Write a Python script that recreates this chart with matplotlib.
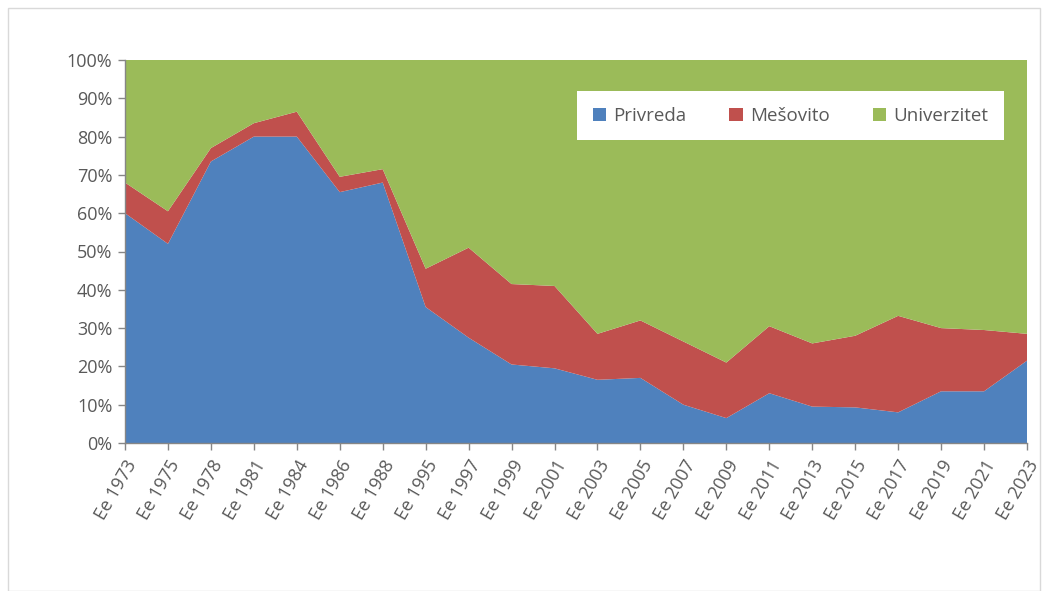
import matplotlib
matplotlib.use("Agg")
import matplotlib.pyplot as plt
from matplotlib.patches import Rectangle
from matplotlib.ticker import FuncFormatter, MultipleLocator
import numpy as np

categories = ["Ee 1973", "Ee 1975", "Ee 1978", "Ee 1981", "Ee 1984", "Ee 1986", "Ee 1988",
              "Ee 1995", "Ee 1997", "Ee 1999", "Ee 2001", "Ee 2003", "Ee 2005", "Ee 2007",
              "Ee 2009", "Ee 2011", "Ee 2013", "Ee 2015", "Ee 2017", "Ee 2019", "Ee 2021", "Ee 2023"]
privreda = [60.0, 52.0, 73.5, 80.0, 80.0, 65.5, 68.0, 35.5, 27.5, 20.5, 19.5, 16.5, 17.0, 10.0,
            6.5, 13.0, 9.5, 9.3, 8.0, 13.5, 13.5, 21.5]
mesovito = [8.0, 8.5, 3.5, 3.5, 6.5, 4.0, 3.5, 10.0, 23.5, 21.0, 21.5, 12.0, 15.0, 16.5,
            14.5, 17.5, 16.5, 18.7, 25.2, 16.5, 16.0, 7.0]
univerzitet = [32.0, 39.5, 23.0, 16.5, 13.5, 30.5, 28.5, 54.5, 49.0, 58.5, 59.0, 71.5, 68.0, 73.5,
               79.0, 69.5, 74.0, 72.0, 66.8, 70.0, 70.5, 71.5]
series_names = ["Privreda", "Mešovito", "Univerzitet"]
colors = ["#4F81BD", "#C0504D", "#9BBB59"]

plt.rcParams['font.family'] = ['Open Sans', 'DejaVu Sans']

fig = plt.figure(figsize=(10.47, 5.91), dpi=100)
fig.patches.append(Rectangle((8/1047, 0.0), 1032/1047, 1 - 8/591, transform=fig.transFigure,
                             fill=False, edgecolor="#D9D9D9", linewidth=1.0))
ax = fig.add_axes([125/1047, 1 - 443/591, (1027 - 125)/1047, (443 - 60)/591])

data = np.array([privreda, mesovito, univerzitet], dtype=float)
totals = data.sum(axis=0)
pct = data / totals * 100
x = np.arange(len(categories))
ax.stackplot(x, pct, colors=colors, labels=series_names, linewidth=0)

ax.set_xlim(0, len(categories) - 1)
ax.set_ylim(0, 100)
ax.yaxis.set_major_locator(MultipleLocator(10))
ax.yaxis.set_major_formatter(FuncFormatter(lambda v, p: f"{int(round(v))}%"))
ax.set_xticks(x)
ax.set_xticklabels(categories, rotation=60, ha="right", rotation_mode="anchor")

for s in ["top", "right"]:
    ax.spines[s].set_visible(False)
for s in ["left", "bottom"]:
    ax.spines[s].set_color("#868686")
    ax.spines[s].set_linewidth(1.0)
ax.tick_params(axis="both", colors="#868686", length=5, width=1.0, labelcolor="#595959",
               labelsize=13)
ax.tick_params(axis="x", pad=5)
ax.tick_params(axis="y", pad=4)

leg = ax.legend(loc="upper right", bbox_to_anchor=(0.9745, 0.918), ncol=3, frameon=True,
                fancybox=False, framealpha=1.0, edgecolor="white", fontsize=13.5,
                handlelength=0.7, handleheight=0.7, handletextpad=0.4, columnspacing=2.3,
                borderpad=0.82, borderaxespad=0, labelcolor="#595959")
leg.get_frame().set_linewidth(0)

fig.savefig("out.png", dpi=100)
